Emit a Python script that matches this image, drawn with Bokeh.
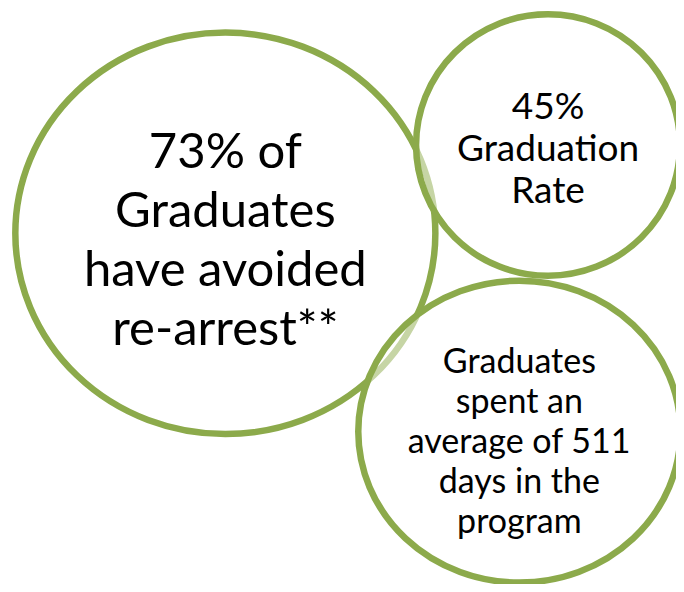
from bokeh.plotting import figure
from bokeh.models import Range1d, ColumnDataSource
from bokeh.core.properties import value
from bokeh.embed import file_html
from bokeh.resources import INLINE

# ---- content ----
big_lines = ["73% of", "Graduates", "have avoided", "re-arrest**"]
rate_lines = ["45%", "Graduation", "Rate"]
days_lines = ["Graduates", "spent an", "average of 511", "days in the", "program"]

# ---- layout (reference pixel coordinates) ----
GREEN = "#8CAA4B"
bubbles = [
    # cx, cy, w, h, text lines, first baseline, pitch, font px
    dict(cx=223.5, cy=232, w=425, h=407, lines=big_lines, y0=147, pitch=59.5, fs=49),
    dict(cx=550, cy=142.5, w=267, h=265, lines=rate_lines, y0=101, pitch=43, fs=37),
    dict(cx=521, cy=433, w=326, h=306, lines=days_lines, y0=360, pitch=40.5, fs=34),
]

W, H = 676, 584
p = figure(width=W, height=H, output_backend="svg", toolbar_location=None,
           x_range=Range1d(-4, 680), y_range=Range1d(588, -4),
           min_border=0, outline_line_color=None, background_fill_color="white",
           border_fill_color="white")
p.axis.visible = False
p.grid.visible = False

for b in bubbles:
    p.ellipse(x=[b["cx"]], y=[b["cy"]], width=[b["w"]], height=[b["h"]],
              fill_color="white", fill_alpha=0.5,
              line_color=GREEN, line_width=6.5)

for b in bubbles:
    n = len(b["lines"])
    ys = [b["y0"] + i * b["pitch"] for i in range(n)]
    src = ColumnDataSource(dict(x=[b["cx"]] * n, y=ys, t=b["lines"]))
    p.text(x="x", y="y", text="t", source=src, text_align="center",
           text_baseline="alphabetic", text_font=value("Lato"),
           text_font_size=value(f"{b['fs']}px"), text_color="black")

open("out.html", "w").write(file_html(p, INLINE))
